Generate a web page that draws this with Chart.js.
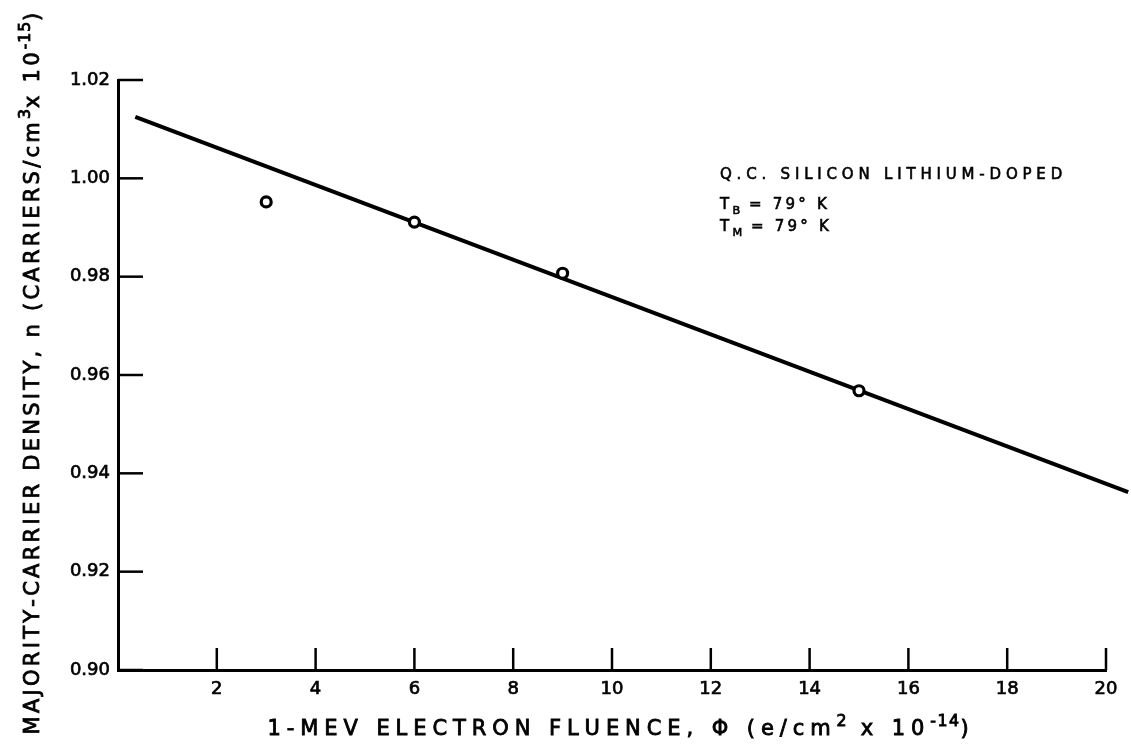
<!DOCTYPE html>
<html lang="en">
<head>
<meta charset="UTF-8">
<title>Majority-carrier density vs 1-MeV electron fluence</title>
<script src="https://cdn.jsdelivr.net/npm/chart.js"></script>
<style>
    html, body { margin: 0; padding: 0; background: #fff; }
    #wrap { width: 1131px; height: 747px; }
</style>
</head>
<body>
<div id="wrap"><canvas id="myChart" width="1131" height="747"></canvas></div>

<script>
    // measured points (fluence x 10^14, density x 10^15)
    var fluence = [3, 6, 9, 15];
    var density = [0.9952, 0.9911, 0.9807, 0.9568];

    var fitFluence = [0.35, 20.45];
    var fitDensity = [1.0125, 0.9362];

    var xTicks = [2, 4, 6, 8, 10, 12, 14, 16, 18, 20];
    var yTicks = [0.90, 0.92, 0.94, 0.96, 0.98, 1.00, 1.02];

    // text parts: [text, 'sup' | 'sub' | '']
    var xTitle = [['1-MEV ELECTRON FLUENCE, \u03A6 (e/cm', ''], ['2', 'sup'], [' x 10', ''], ['-14', 'sup'], [')', '']];
    var yTitle = [['MAJORITY-CARRIER DENSITY, n (CARRIERS/cm', ''], ['3', 'sup'], ['x 10', ''], ['-15', 'sup'], [')', '']];
    var noteLines = [
        [['Q.C. SILICON LITHIUM-DOPED', '']],
        [['T', ''], ['B', 'sub'], [' = 79\u00B0 K', '']],
        [['T', ''], ['M', 'sub'], [' = 79\u00B0 K', '']]
    ];

    var FONT = '"DejaVu Sans", sans-serif';

    // text is drawn char by char so the letter spacing can be set
    function partSpacing(p, spacing) {
        return p[1] ? spacing * 0.25 : spacing;
    }

    function richWidth(ctx, parts, size, spacing) {
        var w = 0;
        parts.forEach(function (p) {
            var s = p[1] ? size * 0.75 : size;
            ctx.font = s + 'px ' + FONT;
            for (var i = 0; i < p[0].length; i++) {
                w += ctx.measureText(p[0][i]).width + partSpacing(p, spacing);
            }
        });
        return w;
    }

    function drawRich(ctx, parts, x, y, size, spacing) {
        ctx.textBaseline = 'alphabetic';
        ctx.textAlign = 'left';
        ctx.lineWidth = size * 0.04;
        parts.forEach(function (p) {
            var s = p[1] ? size * 0.75 : size;
            var dy = p[1] == 'sup' ? -size * 0.45 : (p[1] == 'sub' ? size * 0.3 : 0);
            ctx.font = s + 'px ' + FONT;
            for (var i = 0; i < p[0].length; i++) {
                ctx.fillText(p[0][i], x, y + dy);
                ctx.strokeText(p[0][i], x, y + dy);
                x += ctx.measureText(p[0][i]).width + partSpacing(p, spacing);
            }
        });
    }

    function spacingFor(ctx, parts, size, target) {
        var w0 = richWidth(ctx, parts, size, 0);
        var w1 = richWidth(ctx, parts, size, 1);
        return (target - w0) / (w1 - w0);
    }

    var decorPlugin = {
        id: 'decor',
        afterDraw: function (chart) {
            var ctx = chart.ctx;
            var xs = chart.scales.x, ys = chart.scales.y;
            var area = chart.chartArea;
            ctx.save();
            ctx.strokeStyle = '#000';
            ctx.fillStyle = '#000';
            ctx.lineWidth = 2.5;

            // inward tick marks
            xTicks.forEach(function (v) {
                var px = xs.getPixelForValue(v);
                ctx.beginPath();
                ctx.moveTo(px, area.bottom);
                ctx.lineTo(px, area.bottom - 22);
                ctx.stroke();
            });
            yTicks.forEach(function (v) {
                var py = ys.getPixelForValue(v);
                ctx.beginPath();
                ctx.moveTo(area.left, py);
                ctx.lineTo(area.left + 25, py);
                ctx.stroke();
            });

            // x title
            var sp = spacingFor(ctx, xTitle, 21, 707);
            var w = richWidth(ctx, xTitle, 21, sp);
            drawRich(ctx, xTitle, 621 - w / 2, 735, 21, sp);

            // y title, rotated
            ctx.save();
            ctx.translate(39, 372);
            ctx.rotate(-Math.PI / 2);
            sp = spacingFor(ctx, yTitle, 21, 725);
            w = richWidth(ctx, yTitle, 21, sp);
            drawRich(ctx, yTitle, -w / 2, 0, 21, sp);
            ctx.restore();

            // note
            var widths = [347, 110, 112];
            var baselines = [179, 209, 231];
            noteLines.forEach(function (line, i) {
                var nsp = spacingFor(ctx, line, 15, widths[i]);
                drawRich(ctx, line, 720, baselines[i], 15, nsp);
            });
            ctx.restore();
        }
    };

    var pts = fluence.map(function (v, i) { return { x: v, y: density[i] }; });
    var fit = fitFluence.map(function (v, i) { return { x: v, y: fitDensity[i] }; });

    var tickFont = { family: FONT, size: 18 };

    var config = {
        type: 'scatter',
        data: {
            datasets: [
                {
                    label: 'measured',
                    data: pts,
                    showLine: false,
                    pointStyle: 'circle',
                    pointRadius: 5,
                    pointBorderWidth: 3.2,
                    pointBackgroundColor: '#fff',
                    pointBorderColor: '#000'
                },
                {
                    label: 'fit',
                    data: fit,
                    showLine: true,
                    borderColor: '#000',
                    borderWidth: 4,
                    pointRadius: 0,
                    clip: false
                }
            ]
        },
        options: {
            responsive: false,
            animation: false,
            layout: { padding: { top: 80, right: 25, left: 0, bottom: 0 } },
            plugins: {
                legend: { display: false },
                tooltip: { enabled: false }
            },
            scales: {
                x: {
                    type: 'linear',
                    min: 0,
                    max: 20,
                    afterBuildTicks: function (s) { s.ticks = xTicks.map(function (v) { return { value: v }; }); },
                    afterFit: function (s) { s.height = 77; },
                    grid: { display: true, drawOnChartArea: false, drawTicks: false },
                    border: { display: true, color: '#000', width: 3 },
                    ticks: {
                        color: '#000',
                        textStrokeColor: '#000',
                        textStrokeWidth: 0.7,
                        padding: 9,
                        maxRotation: 0,
                        font: tickFont
                    }
                },
                y: {
                    type: 'linear',
                    min: 0.90,
                    max: 1.02,
                    afterBuildTicks: function (s) { s.ticks = yTicks.map(function (v) { return { value: v }; }); },
                    afterFit: function (s) { s.width = 118; },
                    grid: { display: true, drawOnChartArea: false, drawTicks: false },
                    border: { display: true, color: '#000', width: 3 },
                    ticks: {
                        color: '#000',
                        textStrokeColor: '#000',
                        textStrokeWidth: 0.7,
                        padding: 8,
                        font: tickFont,
                        callback: function (v) { return Number(v).toFixed(2); }
                    }
                }
            }
        },
        plugins: [decorPlugin]
    };

    var myChart = new Chart(document.getElementById('myChart'), config);
</script>
</body>
</html>
